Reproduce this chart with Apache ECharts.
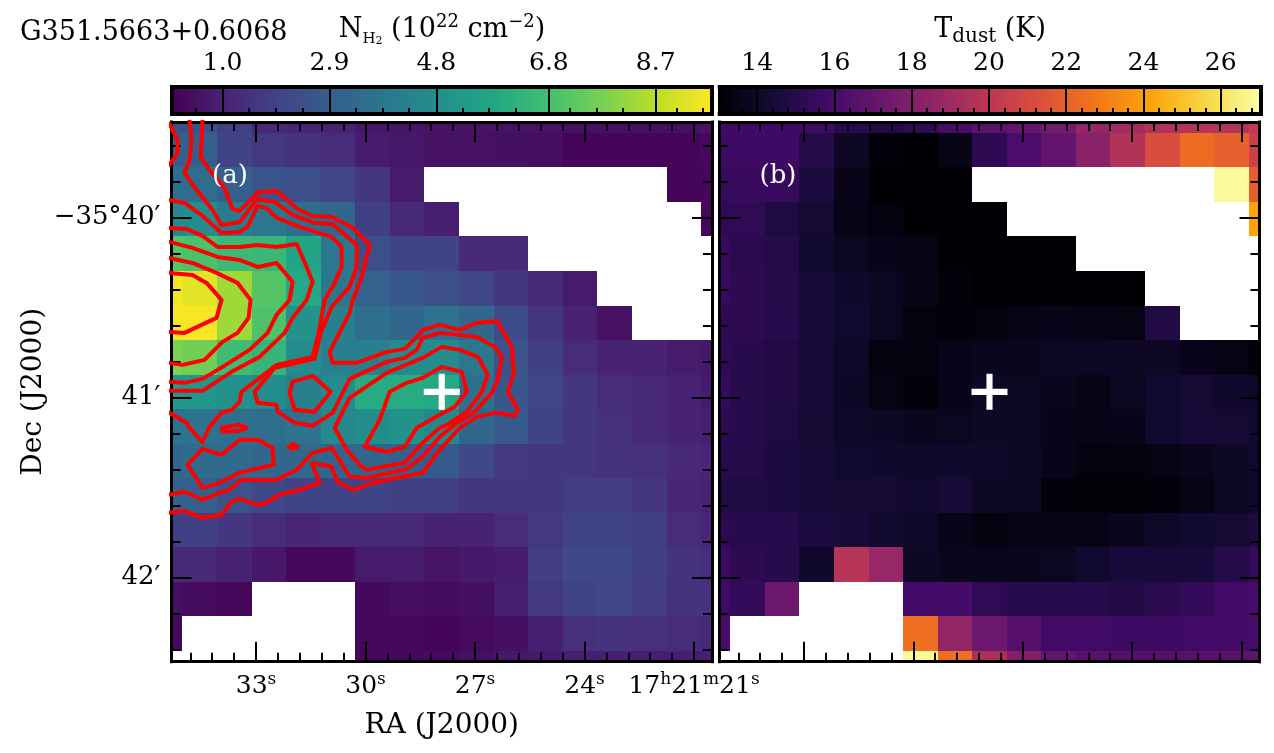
<!DOCTYPE html>
<html><head><meta charset="utf-8">
<style>html,body{margin:0;padding:0;background:#fff}#c{width:1274px;height:753px}</style>
<script src="https://cdn.jsdelivr.net/npm/echarts@6/dist/echarts.min.js"></script>
</head><body><div id="c"></div>
<script>
const N=null;
const sourceName='G351.5663+0.6068';
const viridis=['#440154','#482475','#414487','#355f8d','#2a788e','#21918c','#22a884','#44bf70','#7ad151','#bddf26','#fde725'];
const inferno=['#000004','#160b39','#420a68','#6a176e','#932667','#bc3754','#dd513a','#f37819','#fca50a','#f6d746','#fcffa4'];
// column density, 10^22 cm^-2, rows north to south, columns east to west
const nh2=[
[2.6,2.6,1.9,1.2,1.1,1.0,.7,.65,.6,.6,.6,.6,.55,.55,.5,.5,.6],
[3.0,3.0,2.0,1.7,1.5,1.3,.85,.7,.55,.55,.5,.45,.25,.25,.25,.25,.3],
[3.6,3.5,3.0,2.6,2.4,2.1,1.6,.8,N,N,N,N,N,N,N,.25,.25],
[4.6,4.7,4.1,3.9,3.5,3.3,1.9,1.2,.9,N,N,N,N,N,N,N,.25],
[7.1,6.9,6.6,6.5,5.7,3.9,2.4,2.0,2.0,1.25,1.25,N,N,N,N,N,N],
[9.55,9.3,8.3,7.1,5.9,3.9,3.1,2.7,2.4,2.1,1.6,1.2,.8,N,N,N,N],
[9.6,9.6,8.3,7.0,5.0,4.3,3.6,3.3,3.7,3.3,2.3,1.6,1.0,.55,N,N,N],
[7.8,7.6,6.7,6.4,4.7,4.2,4.2,4.8,4.7,3.9,2.5,1.9,1.3,1.0,1.0,.8,.7],
[5.2,5.1,4.9,4.7,4.2,4.7,6.0,6.0,5.9,3.6,2.7,2.1,1.6,1.3,1.2,1.0,.8],
[3.7,3.7,3.6,3.5,3.7,4.6,4.8,5.0,4.6,3.3,2.8,2.0,1.6,1.4,1.2,1.0,.9],
[3.2,3.4,3.4,3.3,3.3,3.2,3.2,3.0,2.8,2.2,1.7,1.6,1.6,1.5,1.4,1.2,1.1],
[3.0,3.0,2.6,2.2,2.0,2.0,2.0,1.9,1.9,1.6,1.6,1.6,1.8,1.8,1.6,1.1,1.0],
[1.9,1.9,1.6,1.3,1.1,1.2,1.2,1.2,1.0,1.0,1.3,1.7,2.0,2.0,1.9,1.3,1.1],
[1.2,1.2,1.0,.7,.3,.3,.8,.8,.6,.75,.85,1.8,2.2,2.2,1.9,1.5,1.3],
[.5,.4,.3,N,N,N,.3,.45,.4,.5,.9,1.7,2.0,2.1,1.8,1.5,1.5],
[.3,N,N,N,N,N,.3,.3,.25,.35,.5,.9,1.4,1.5,1.4,1.3,1.2],
[N,N,N,N,N,N,.3,.3,.35,.5,.7,.8,.9,.9,.9,.9,.9]
];
// dust temperature, K
const tdust=[
[15.8,15.8,15.8,15.7,15,14.8,15.2,16,16.7,17,17.6,18.6,19.1,19.7,19.8,19.8,20.2],
[15.7,15.7,15.7,14.9,13.9,13.2,13.05,13.5,15.2,16.1,17,18.3,19.7,21.2,22.4,22,20.6],
[15.5,15.5,15.5,14.6,13.6,13.05,13.05,13.05,N,N,N,N,N,N,N,26.9,21.9],
[15.3,15.3,14.7,14.3,13.5,13.3,13.05,13.05,13.05,N,N,N,N,N,N,N,24.2],
[15.5,15.1,14.9,14.2,13.8,13.6,13.5,13.05,13.05,13.05,13.05,N,N,N,N,N,N],
[15.5,15.2,14.9,14.5,14.1,13.8,13.5,13.2,13.05,13.05,13.05,13.05,13.05,N,N,N,N],
[15.3,15.2,15,14.5,14.2,13.8,13.3,13.2,13.3,13.5,13.6,13.5,13.4,14.8,N,N,N],
[15.3,15,14.8,14.4,14,13.3,13.3,13.6,13.7,13.7,13.9,13.9,13.9,13.9,13.6,13.4,13.2],
[15.4,15,14.8,14.4,13.9,13.4,13.2,13.6,13.9,13.8,13.7,13.5,13.8,14.2,14.3,14.1,14],
[15.2,15,14.7,14.3,14,13.9,13.7,13.8,13.9,13.8,13.6,13.5,13.6,14.2,14.4,14.3,14.2],
[15,14.9,14.6,14.4,14.2,14.1,14,14.1,14,13.9,13.6,13.3,13.3,13.4,13.7,13.9,14.2],
[14.8,14.7,14.6,14.4,14.3,14.3,14.2,14.4,13.9,13.8,13.2,13.1,13.1,13.2,13.5,13.8,14.1],
[15.2,15,15,14.6,14.5,14.2,14,13.6,13.3,13.5,13.5,13.5,13.7,14,14.2,14.3,14.6],
[15.6,15.2,15,14.1,19.8,18.8,13.9,13.7,13.7,13.7,13.8,14.2,14.5,14.5,14.5,14.9,15.4],
[15.8,15.4,17.3,N,N,N,15.9,15.9,15.3,15,15,15,14.8,15.1,15.4,15.8,16],
[16,N,N,N,N,N,22.5,18.6,17.3,16.6,15.8,15.8,15.7,15.7,15.8,15.9,16],
[N,N,N,N,N,N,26.8,22.5,19.4,18,17,16.6,16.5,16.5,16.6,16.7,16.8]
];
// N_H2 contours: offsets from the source, in thirds of an arcsec (west, north)
const contourOuter=[[-239,272],[-240,249],[-241,235],[-232,222],[-217,204],[-209,183],[-202,181],[-183,200],[-165,201],[-144,183],[-129,176],[-110,175],[-90,165],[-72,147],[-80,115],[-89,92],[-92,79],[-112,40],[-109,29],[-85,29],[-55,40],[-37,43],[-25,55],[-19,62],[-2,67],[18,62],[35,69],[55,71],[70,45],[72,19],[66,0],[76,-18],[73,-24],[53,-21],[35,-25],[18,-36],[-2,-58],[-19,-81],[-69,-91],[-89,-98],[-104,-90],[-110,-75],[-130,-71],[-122,-91],[-142,-98],[-162,-103],[-175,-111],[-184,-113],[-202,-107],[-210,-110],[-220,-123],[-239,-126],[-257,-119],[-272,-121]];
const contourSecond=[[-272,-103],[-257,-100],[-239,-108],[-222,-101],[-212,-98],[-200,-88],[-165,-88],[-145,-78],[-129,-61],[-110,-56],[-92,-85],[-75,-86],[-37,-78],[-19,-65],[-2,-45],[15,-31],[33,-20],[50,-1],[56,12],[60,35],[53,45],[35,55],[-2,59],[-19,54],[-25,42],[-37,34],[-55,30],[-92,13],[-109,-21],[-129,-34],[-147,-31],[-164,-20],[-165,-13],[-184,-11],[-187,0],[-167,24],[-127,33],[-121,59],[-110,85],[-92,105],[-85,125],[-85,147],[-109,168],[-127,169],[-149,177],[-167,190],[-184,193],[-202,170],[-220,167],[-229,182],[-245,202],[-257,219],[-252,232],[-250,252],[-252,272]];
const contourThird=[[-272,192],[-257,189],[-239,176],[-220,159],[-202,160],[-194,165],[-184,186],[-175,184],[-165,174],[-142,165],[-110,155],[-100,145],[-100,125],[-107,109],[-117,92],[-123,59],[-129,35],[-165,27],[-200,0],[-202,-10],[-210,-18],[-220,-21],[-232,-35],[-239,-50],[-252,-36],[-255,-31],[-272,-21]];
const contourFourth=[[-272,164],[-255,163],[-239,156],[-224,145],[-202,145],[-184,147],[-165,145],[-145,148],[-135,125],[-129,110],[-135,92],[-149,74],[-157,59],[-182,35],[-210,20],[-239,1],[-272,1]];
const contourFifth=[[-272,150],[-249,144],[-224,135],[-202,132],[-184,125],[-165,129],[-149,110],[-152,92],[-165,77],[-174,59],[-192,42],[-219,25],[-239,13],[-257,9],[-272,10]];
const contourSixth=[[-272,134],[-249,129],[-225,119],[-204,109],[-191,92],[-193,74],[-204,59],[-219,50],[-237,32],[-259,27],[-272,29]];
const contourPeak=[[-272,119],[-249,117],[-235,109],[-220,92],[-225,74],[-257,59],[-272,60]];
const contourTopLeft=[[-272,268],[-264,252],[-264,239],[-272,227]];
const ringLobe=[[-149,10],[-129,16],[-111,0],[-127,-20],[-147,-18],[-152,-1],[-149,10]];
const ringSmall=[[-220,-36],[-202,-33],[-195,-36],[-202,-39],[-219,-40],[-220,-36]];
const ringDot=[[-153,-55],[-149,-52],[-144,-55],[-149,-57],[-153,-55]];
const ringSouth=[[-254,-73],[-239,-57],[-220,-63],[-202,-48],[-184,-48],[-169,-56],[-168,-73],[-202,-81],[-222,-91],[-239,-96],[-254,-73]];
const ringSource=[[-107,-36],[-92,-6],[-55,19],[-19,34],[0,45],[18,42],[36,35],[46,17],[40,0],[25,-20],[5,-33],[-2,-36],[-19,-51],[-37,-71],[-75,-78],[-82,-73],[-95,-58],[-107,-36]];
const ringCore=[[-52,0],[-35,9],[-19,14],[0,25],[20,20],[25,0],[13,-15],[-2,-23],[-25,-36],[-37,-55],[-55,-60],[-77,-55],[-62,-28],[-52,0]];
const contours=[contourOuter,contourSecond,contourThird,contourFourth,contourFifth,contourSixth,contourPeak,contourTopLeft,ringLobe,ringSmall,ringDot,ringSouth,ringSource,ringCore];
const raMajor=[33,30,27,24,21];
const raMinor=[34.8,34.2,33.6,32.4,31.8,31.2,30.6,29.4,28.8,28.2,27.6,26.4,25.8,25.2,24.6,23.4,22.8,22.2,21.6];
const decMajor=[40,41,42];
const decMinor=[39.6,39.8,40.2,40.4,40.6,40.8,41.2,41.4,41.6,41.8,42.2,42.4];
const nMajor=[1.0,2.9,4.8,6.8,8.7];
const nMinor=[.526,1.467,1.947,2.426,3.367,3.847,4.307,5.268,5.728,6.208,7.167,7.647,8.109,9.068,9.53];
const tMajor=[14,16,18,20,22,24,26];
const tMinor=[13.2,13.6,14.4,14.8,15.2,15.6,16.4,16.8,17.2,17.6,18.4,18.8,19.2,19.6,20.4,20.8,21.2,21.6,22.4,22.8,23.2,23.6,24.4,24.8,25.2,25.6,26.4,26.8];
const NR=[.1,9.7], TR=[13.03,27.03];

const FF='DejaVu Serif';
const chart=echarts.init(document.getElementById('c'),null,{renderer:'canvas'});
const CELL=34.55;
const xAxes=[],yAxes=[],series=[];
const line3={color:'#000',width:3,cap:'square'};
const tk=(len,vals,w)=>({show:true,inside:true,length:len,customValues:vals,lineStyle:{color:'#000',width:w||2}});
const raLabel=v=>{
  const s=Math.round(v);
  return s===21?'{n|17}{u|h}{n|21}{u|m}{n|21}{u|s}':'{n|'+s+'}{u|s}';
};
const tickRich={n:{fontFamily:FF,fontSize:25,color:'#000',verticalAlign:'bottom',lineHeight:28},u:{fontFamily:FF,fontSize:17,color:'#000',verticalAlign:'top',lineHeight:28,padding:[0,0,6,0]}};
function addPanel(g,labelled){
  const xi=xAxes.length, yi=yAxes.length;
  xAxes.push({gridIndex:g,type:'value',min:-270,max:270,show:false});
  yAxes.push({gridIndex:g,type:'value',min:-270,max:270,show:false});
  const xbase={gridIndex:g,type:'value',min:20.507,max:35.315,inverse:true,z:5,splitLine:{show:false},axisLine:{show:false,onZero:false},axisLabel:{show:false}};
  const ybase={gridIndex:g,type:'value',min:39.468,max:42.467,inverse:true,z:5,splitLine:{show:false},axisLine:{show:false,onZero:false},axisLabel:{show:false}};
  xAxes.push(Object.assign({},xbase,{position:'bottom',axisTick:tk(20,raMajor),axisLine:{show:true,onZero:false,lineStyle:line3},
    axisLabel:labelled?{show:true,customValues:raMajor,margin:9,formatter:raLabel,rich:tickRich,hideOverlap:false,showMinLabel:true,showMaxLabel:true}:{show:false},
    name:labelled?'RA (J2000)':'',nameLocation:'middle',nameGap:50,nameTextStyle:{fontFamily:FF,fontSize:28,color:'#000'}}));
  xAxes.push(Object.assign({},xbase,{position:'bottom',axisTick:tk(9,raMinor)}));
  xAxes.push(Object.assign({},xbase,{position:'top',axisTick:tk(20,raMajor),axisLine:{show:true,onZero:false,lineStyle:line3}}));
  xAxes.push(Object.assign({},xbase,{position:'top',axisTick:tk(9,raMinor)}));
  yAxes.push(Object.assign({},ybase,{position:'left',axisTick:tk(20,decMajor),axisLine:{show:true,onZero:false,lineStyle:line3},
    axisLabel:labelled?{show:true,customValues:decMajor,margin:11,fontFamily:FF,fontSize:26,color:'#000',formatter:v=>Math.round(v)===40?'\u221235\u00b040\u2032':Math.round(v)+'\u2032'}:{show:false},
    name:labelled?'Dec (J2000)':'',nameLocation:'middle',nameGap:124,nameRotate:90,nameTextStyle:{fontFamily:FF,fontSize:28,color:'#000'}}));
  yAxes.push(Object.assign({},ybase,{position:'left',axisTick:tk(9,decMinor)}));
  yAxes.push(Object.assign({},ybase,{position:'right',axisTick:tk(20,decMajor),axisLine:{show:true,onZero:false,lineStyle:line3}}));
  yAxes.push(Object.assign({},ybase,{position:'right',axisTick:tk(9,decMinor)}));
  return [xi,yi];
}
function cellData(m){
  const out=[];
  m.forEach((row,r)=>row.forEach((v,c)=>{ if(v!==null) out.push([(c-8)*CELL,(8-r)*CELL,v]); }));
  return out;
}
function mapSeries(ax,m,stops,range){
  series.push({type:'custom',xAxisIndex:ax[0],yAxisIndex:ax[1],z:2,animation:false,silent:true,data:cellData(m),encode:{x:0,y:1},
    renderItem(params,api){
      const u=api.value(0),v=api.value(1),val=api.value(2);
      const a=api.coord([u-CELL/2,v+CELL/2]), b=api.coord([u+CELL/2,v-CELL/2]);
      const cs=params.coordSys;
      const x0=Math.round(a[0]),y0=Math.round(a[1]),x1=Math.round(b[0]),y1=Math.round(b[1]);
      const rect=echarts.graphic.clipRectByRect({x:x0,y:y0,width:x1-x0,height:y1-y0},{x:cs.x,y:cs.y,width:cs.width,height:cs.height});
      if(!rect) return;
      const t=Math.max(0,Math.min(1,(val-range[0])/(range[1]-range[0])));
      return {type:'rect',shape:rect,style:{fill:echarts.color.lerp(t,stops),stroke:null}};
    }});
}
function crossSeries(ax){
  series.push({type:'scatter',xAxisIndex:ax[0],yAxisIndex:ax[1],z:8,animation:false,silent:true,symbolSize:36,
    symbol:'path://M8.3 0h3.4v8.3h8.3v3.4h-8.3v8.3h-3.4v-8.3H0v-3.4h8.3z',itemStyle:{color:'#fff',opacity:1},data:[[0,0]]});
}
function addBar(g,stops,range,major,minor,fmt,nameText,rich){
  const base={gridIndex:g,type:'value',min:range[0],max:range[1],z:5,splitLine:{show:false}};
  const xi=xAxes.length, yi=yAxes.length;
  const frame={show:true,onZero:false,lineStyle:{color:'#000',width:4,cap:'square'}};
  xAxes.push(Object.assign({},base,{position:'top',axisLine:frame,axisTick:tk(27,major),
    axisLabel:{show:true,customValues:major,margin:11,fontFamily:FF,fontSize:25,color:'#000',formatter:fmt},
    name:nameText,nameLocation:'middle',nameGap:40,nameTextStyle:{rich,fontFamily:FF,fontSize:24,color:'#000'}}));
  xAxes.push(Object.assign({},base,{position:'bottom',axisLine:frame,axisTick:tk(6,minor),axisLabel:{show:false}}));
  const yb={gridIndex:g,type:'value',min:0,max:1,z:5,splitLine:{show:false},axisTick:{show:false},axisLabel:{show:false},axisLine:frame};
  yAxes.push(Object.assign({},yb,{position:'left'}));
  yAxes.push(Object.assign({},yb,{position:'right'}));
  const grad=stops.map((c,i)=>({offset:i/(stops.length-1),color:c}));
  series.push({type:'custom',xAxisIndex:xi,yAxisIndex:yi,z:2,animation:false,silent:true,data:[[range[0],0,range[1],1]],encode:{x:[0,2],y:[1,3]},
    renderItem(p,api){
      const a=api.coord([api.value(0),api.value(3)]),b=api.coord([api.value(2),api.value(1)]);
      return {type:'rect',shape:{x:a[0],y:a[1],width:b[0]-a[0],height:b[1]-a[1]},style:{fill:new echarts.graphic.LinearGradient(0,0,1,0,grad)}};
    }});
}
const grids=[
 {left:171.5,top:122,width:540.5,height:539.7},
 {left:719.5,top:122,width:540,height:539.7},
 {left:172,top:87,width:540,height:27},
 {left:719.7,top:87,width:540.8,height:27}
];
const L=addPanel(0,true), R=addPanel(1,false);
mapSeries(L,nh2,viridis,NR);
mapSeries(R,tdust,inferno,TR);
contours.forEach(c=>series.push({type:'line',xAxisIndex:L[0],yAxisIndex:L[1],z:6,animation:false,silent:true,showSymbol:false,clip:true,
  lineStyle:{color:'#ff0000',width:4,join:'round',cap:'round'},data:c}));
crossSeries(L);crossSeries(R);
const subRich={
 m:{fontFamily:FF,fontSize:27,color:'#000',verticalAlign:'middle',lineHeight:34},
 s:{fontFamily:FF,fontSize:15,color:'#000',verticalAlign:'bottom',lineHeight:34},
 ss:{fontFamily:FF,fontSize:11,color:'#000',verticalAlign:'bottom',lineHeight:34},
 u:{fontFamily:FF,fontSize:18,color:'#000',verticalAlign:'top',lineHeight:34},
 d:{fontFamily:FF,fontSize:20,color:'#000',verticalAlign:'bottom',lineHeight:34}
};
addBar(2,viridis,NR,nMajor,nMinor,v=>v.toFixed(1),'{m|N}{s|H}{ss|2}{m| (10}{u|22}{m| cm}{u|\u22122}{m|)}',subRich);
addBar(3,inferno,TR,tMajor,tMinor,v=>String(Math.round(v)),'{m|T}{d|dust}{m| (K)}',subRich);
chart.setOption({
  animation:false,backgroundColor:'#fff',
  title:{text:sourceName,left:15,top:14,textStyle:{fontFamily:FF,fontSize:27,fontWeight:'normal',color:'#000'}},
  grid:grids,xAxis:xAxes,yAxis:yAxes,series,
  graphic:[
   {type:'text',x:230,y:176,z:20,style:{text:'(a)',fill:'#fff',font:'26px "DejaVu Serif"',align:'center',verticalAlign:'middle'}},
   {type:'text',x:778,y:176,z:20,style:{text:'(b)',fill:'#fff',font:'26px "DejaVu Serif"',align:'center',verticalAlign:'middle'}}
  ]
});
</script></body></html>
